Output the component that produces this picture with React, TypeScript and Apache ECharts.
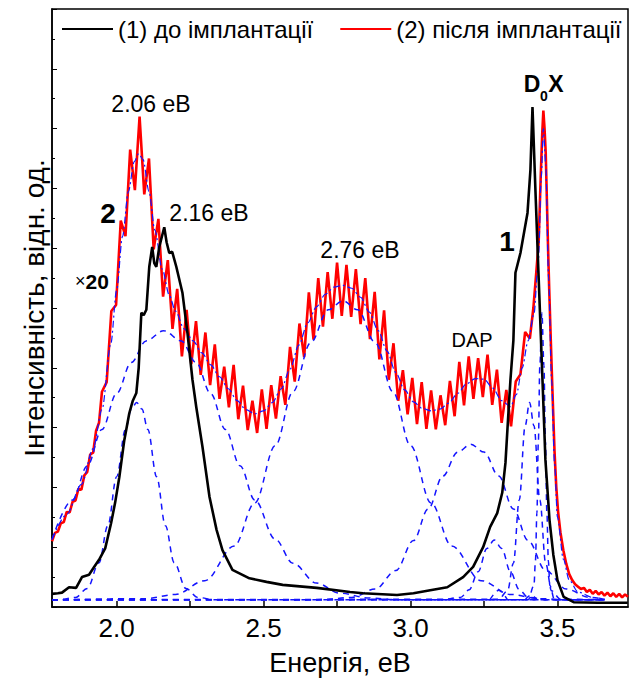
import React, { useEffect, useRef } from 'react';
import * as echarts from 'echarts';

const FONT = 'Liberation Sans, Arial, sans-serif';

const xTickValues = [2.0, 2.25, 2.5, 2.75, 3.0, 3.25, 3.5];
const xLabelValues = [2.0, 2.5, 3.0, 3.5];

const blackName = '(1) до імплантації';
const redName = '(2) після імплантації';

// curve 1: before implantation
const blackCurve = [
  [1.78, 2.2], [1.80, 2.3], [1.814, 2.4], [1.838, 3.3], [1.862, 3.2], [1.882, 5.0], [1.906, 5.4], [1.925, 6.8],
  [1.940, 7.9], [1.961, 9.8], [1.981, 14.0], [1.995, 17.5], [2.009, 21.7], [2.026, 27.9], [2.043, 32.4],
  [2.055, 34.5], [2.067, 35.8], [2.075, 40.0], [2.084, 49.2], [2.092, 48.8], [2.101, 49.7], [2.111, 56.9],
  [2.121, 60.2], [2.128, 57.5], [2.135, 56.9], [2.145, 60.2], [2.162, 63.5], [2.170, 61.0], [2.179, 59.2],
  [2.189, 59.4], [2.203, 56.9], [2.224, 52.5], [2.241, 45.8], [2.258, 38.0], [2.271, 33.4], [2.292, 26.8],
  [2.316, 18.4], [2.340, 12.9], [2.360, 9.5], [2.394, 6.2], [2.452, 4.8], [2.510, 4.2], [2.565, 3.7],
  [2.681, 3.2], [2.794, 2.5], [2.838, 2.3], [2.954, 2.0], [3.010, 2.3], [3.067, 2.8], [3.125, 3.3],
  [3.179, 5.0], [3.213, 6.7], [3.247, 10.0], [3.271, 13.4], [3.295, 15.7], [3.312, 19.1], [3.323, 24.1],
  [3.333, 32.4], [3.340, 38.0], [3.350, 44.6], [3.357, 55.9], [3.374, 59.2], [3.398, 65.9], [3.408, 73.1],
  [3.415, 83.6], [3.425, 69.7], [3.435, 56.3], [3.449, 38.0], [3.459, 24.6], [3.473, 14.5], [3.486, 8.7],
  [3.500, 4.5], [3.521, 1.7], [3.555, 0.8], [3.637, 0.7], [3.739, 0.7],
];

// curve 2: after implantation (x20)
const redCurve = [
  [1.78, 11.0], [1.79, 12.4], [1.80, 12.6], [1.81, 14.0], [1.82, 14.2], [1.83, 15.9], [1.84, 15.8], [1.85, 17.6],
  [1.86, 17.8], [1.87, 19.8], [1.88, 19.6], [1.89, 22.0], [1.90, 22.6], [1.91, 25.5], [1.92, 25.8], [1.93, 29.5],
  [1.94, 30.8], [1.950, 36.0], [1.966, 37.6], [1.982, 49.5], [1.998, 50.5], [2.014, 64.6], [2.030, 62.0],
  [2.046, 76.5], [2.062, 69.7], [2.078, 82.0], [2.094, 69.0], [2.110, 75.0], [2.126, 59.8], [2.142, 64.9],
  [2.158, 51.9], [2.174, 58.0], [2.190, 46.5], [2.206, 53.2], [2.222, 41.9], [2.238, 49.7], [2.254, 40.6],
  [2.270, 47.8], [2.286, 38.8], [2.302, 45.9], [2.318, 37.1], [2.334, 43.9], [2.350, 34.8], [2.366, 40.2],
  [2.382, 33.4], [2.398, 40.5], [2.414, 31.4], [2.430, 37.0], [2.446, 29.6], [2.462, 34.5], [2.478, 29.1],
  [2.494, 36.4], [2.510, 29.8], [2.526, 37.1], [2.542, 31.5], [2.558, 38.6], [2.574, 33.8], [2.590, 43.5],
  [2.606, 37.7], [2.622, 47.4], [2.638, 41.8], [2.654, 52.6], [2.670, 44.7], [2.686, 55.0], [2.702, 46.9],
  [2.718, 56.0], [2.734, 48.2], [2.750, 57.6], [2.766, 48.7], [2.782, 57.2], [2.798, 48.5], [2.814, 56.5],
  [2.830, 47.3], [2.846, 55.0], [2.862, 44.8], [2.878, 52.7], [2.894, 41.4], [2.910, 49.6], [2.926, 38.0],
  [2.942, 44.1], [2.958, 34.5], [2.974, 39.6], [2.990, 32.2], [3.006, 38.3], [3.022, 30.6], [3.038, 37.6],
  [3.054, 29.8], [3.070, 36.2], [3.086, 29.7], [3.102, 35.4], [3.118, 30.4], [3.134, 37.8], [3.150, 31.9],
  [3.166, 41.0], [3.182, 33.7], [3.198, 41.9], [3.214, 34.8], [3.230, 41.6], [3.246, 35.1], [3.262, 42.2],
  [3.278, 33.8], [3.294, 39.7], [3.310, 30.8], [3.326, 36.3], [3.342, 30.2], [3.358, 37.7], [3.374, 38.9],
  [3.390, 46.0], [3.406, 44.9], [3.418, 50.0], [3.428, 56.0], [3.436, 61.0], [3.443, 72.0], [3.448, 79.0],
  [3.452, 83.0], [3.456, 80.0], [3.460, 76.0], [3.464, 68.0], [3.468, 60.0], [3.472, 53.0], [3.477, 45.0],
  [3.483, 36.0], [3.490, 26.0], [3.496, 20.0], [3.502, 16.0], [3.510, 12.5], [3.520, 9.5], [3.530, 7.2],
  [3.540, 5.5], [3.550, 4.5], [3.560, 3.8], [3.570, 3.4], [3.580, 3.0], [3.590, 3.2], [3.600, 2.5],
  [3.610, 2.9], [3.620, 2.2], [3.630, 2.7], [3.640, 2.1], [3.650, 2.5], [3.660, 1.9], [3.670, 2.4],
  [3.680, 1.8], [3.690, 2.3], [3.700, 1.7], [3.710, 2.2], [3.720, 1.6], [3.730, 2.1], [3.740, 1.7],
];

// cumulative fit of curve 2
const fitSum = [
  [1.78, 11.3], [1.83, 15.5], [1.88, 20.5], [1.92, 26.5], [1.95, 33.0], [1.98, 44.0], [2.00, 53.0], [2.02, 62.0],
  [2.04, 69.5], [2.06, 74.5], [2.075, 75.8], [2.09, 74.8], [2.11, 69.5], [2.13, 63.0], [2.155, 56.5], [2.18, 52.0],
  [2.20, 49.5], [2.23, 46.5], [2.26, 44.5], [2.29, 42.5], [2.32, 40.5], [2.35, 38.5], [2.38, 36.5], [2.41, 34.5],
  [2.44, 33.0], [2.47, 32.3], [2.50, 32.8], [2.53, 34.2], [2.56, 36.5], [2.59, 39.8], [2.62, 43.8], [2.65, 47.5],
  [2.68, 50.2], [2.71, 52.3], [2.74, 53.5], [2.77, 53.8], [2.80, 53.3], [2.83, 51.8], [2.86, 49.3], [2.89, 46.2],
  [2.92, 42.8], [2.95, 39.2], [2.98, 36.3], [3.01, 34.3], [3.04, 33.2], [3.07, 32.8], [3.10, 33.1], [3.13, 34.1],
  [3.16, 35.7], [3.19, 37.3], [3.22, 38.2], [3.25, 38.1], [3.28, 36.6], [3.31, 34.5], [3.34, 33.5], [3.36, 35.5],
  [3.38, 40.0], [3.40, 44.5], [3.42, 49.0], [3.435, 58.0], [3.445, 72.0], [3.452, 80.0], [3.46, 74.0],
  [3.47, 55.0], [3.48, 38.0], [3.49, 24.0], [3.50, 15.0], [3.52, 8.0], [3.54, 4.5], [3.57, 2.5], [3.62, 1.6],
  [3.66, 1.3],
];

// Gaussian components of the fit
const peak206 = [
  [1.78, 1.2], [1.80, 1.2], [1.86, 1.6], [1.90, 3.1], [1.94, 7.4], [1.97, 13.6], [2.00, 21.8], [2.03, 29.7],
  [2.05, 33.1], [2.068, 34.2], [2.086, 33.1], [2.106, 29.7], [2.136, 21.8], [2.166, 13.6], [2.196, 7.4],
  [2.236, 3.1], [2.276, 1.6], [2.336, 1.2], [3.66, 1.2],
];
const peak216 = [
  [1.78, 11.3], [1.85, 17.9], [1.90, 23.6], [1.95, 29.7], [2.00, 35.7], [2.05, 40.9], [2.10, 44.5], [2.16, 46.2],
  [2.22, 44.5], [2.27, 40.9], [2.32, 35.7], [2.37, 29.7], [2.42, 23.6], [2.47, 17.9], [2.54, 11.3], [2.60, 7.3],
  [2.68, 4.0], [2.76, 2.3], [2.86, 1.5], [2.96, 1.2], [3.66, 1.2],
];
const peak276 = [
  [1.78, 1.2], [2.10, 1.4], [2.20, 2.1], [2.30, 4.4], [2.40, 10.2], [2.47, 17.4], [2.54, 27.0], [2.60, 36.0],
  [2.66, 44.2], [2.72, 49.7], [2.77, 51.2], [2.82, 49.7], [2.88, 44.2], [2.94, 36.0], [3.00, 27.0], [3.07, 17.4],
  [3.14, 10.2], [3.24, 4.4], [3.34, 2.1], [3.44, 1.4], [3.54, 1.2], [3.66, 1.2],
];
const peakDAP = [
  [1.78, 1.2], [2.70, 1.2], [2.80, 1.6], [2.88, 3.0], [2.95, 6.1], [3.01, 11.1], [3.06, 16.4], [3.11, 21.9],
  [3.16, 25.9], [3.205, 27.2], [3.25, 25.9], [3.30, 21.9], [3.35, 16.4], [3.40, 11.1], [3.46, 6.1], [3.53, 3.0],
  [3.61, 1.6], [3.66, 1.3],
];
const peak328 = [
  [1.78, 1.2], [3.10, 1.2], [3.17, 1.6], [3.20, 2.9], [3.23, 5.9], [3.26, 9.8], [3.285, 11.2], [3.31, 9.8],
  [3.34, 5.9], [3.37, 2.9], [3.40, 1.6], [3.47, 1.2], [3.66, 1.2],
];
const peak340 = [
  [1.78, 1.2], [3.30, 1.3], [3.33, 2.7], [3.35, 7.3], [3.37, 17.9], [3.39, 30.3], [3.405, 34.2], [3.42, 30.3],
  [3.44, 17.9], [3.46, 7.3], [3.48, 2.7], [3.51, 1.3], [3.66, 1.2],
];
const peakD0X = [
  [1.78, 1.2], [3.40, 1.2], [3.42, 3.6], [3.425, 7.7], [3.43, 15.7], [3.435, 27.7], [3.44, 40.4], [3.447, 49.2],
  [3.454, 40.4], [3.459, 27.7], [3.464, 15.7], [3.469, 7.7], [3.474, 3.6], [3.49, 1.2], [3.66, 1.2],
];
const smallBump1 = [[3.27, 1.2], [3.30, 2.8], [3.33, 1.2]];
const smallBump2 = [[3.39, 1.2], [3.41, 2.0], [3.43, 1.2]];

const components = [peak206, peak216, peak276, peakDAP, peak328, peak340, peakD0X, smallBump1, smallBump2];

export default function App() {
  const ref = useRef<HTMLDivElement>(null);

  useEffect(() => {
    const chart = echarts.init(ref.current!, null, { renderer: 'svg' });
    const blue = '#1414ff';
    const compSeries = components.map((d) => ({
      type: 'line',
      data: d,
      showSymbol: false,
      smooth: 0.35,
      smoothMonotone: 'x',
      lineStyle: { color: blue, width: 1.5, type: [6, 5] },
      z: 3,
      silent: true,
    }));
    const txt = (text: string, x: number, y: number, font: string) => ({
      type: 'text', x, y,
      style: { text, font, fill: '#000', align: 'center', verticalAlign: 'middle' },
    });
    const option: any = {
      animation: false,
      backgroundColor: '#fff',
      textStyle: { fontFamily: FONT },
      grid: { left: 52, right: 9, top: 9, bottom: 76, show: true, borderColor: '#000', borderWidth: 1.5, backgroundColor: 'transparent' },
      legend: {
        data: [blackName, redName],
        left: 57,
        top: 12,
        icon: 'rect',
        itemWidth: 51,
        itemHeight: 2,
        itemGap: 27,
        textStyle: { fontSize: 24, color: '#000', fontFamily: FONT },
      },
      xAxis: {
        type: 'value',
        min: 1.78,
        max: 3.74,
        name: 'Енергія, еВ',
        nameLocation: 'middle',
        nameGap: 42,
        nameTextStyle: { fontSize: 27, color: '#000', fontFamily: FONT },
        axisLine: { lineStyle: { color: '#000', width: 1.5 } },
        axisTick: { inside: true, length: 6, customValues: xTickValues, lineStyle: { color: '#000', width: 1.5 } },
        axisLabel: {
          customValues: xLabelValues,
          formatter: (v: number) => v.toFixed(1),
          fontSize: 26,
          color: '#000',
          margin: 8,
          fontFamily: FONT,
        },
        splitLine: { show: false },
      },
      yAxis: {
        type: 'value',
        min: 0,
        max: 100,
        interval: 10,
        name: 'Інтенсивність, відн. од.',
        nameLocation: 'middle',
        nameGap: 4,
        nameTextStyle: { fontSize: 28, color: '#000', fontFamily: FONT },
        axisLine: { lineStyle: { color: '#000', width: 1.5 } },
        axisTick: { inside: true, length: 5, lineStyle: { color: '#000', width: 1 } },
        minorTick: { show: true, splitNumber: 2, length: 3, lineStyle: { color: '#000', width: 1 } },
        axisLabel: { show: false },
        splitLine: { show: false },
        minorSplitLine: { show: false },
      },
      series: [
        {
          name: redName,
          type: 'line',
          data: redCurve,
          showSymbol: false,
          lineStyle: { color: '#ff0000', width: 2.6 },
          itemStyle: { color: '#ff0000' },
          z: 2,
        },
        ...compSeries,
        {
          type: 'line',
          data: fitSum,
          showSymbol: false,
          smooth: 0.3,
          smoothMonotone: 'x',
          lineStyle: { color: blue, width: 1.2, type: [7, 3, 2, 3] },
          z: 4,
          silent: true,
        },
        {
          name: blackName,
          type: 'line',
          data: blackCurve,
          showSymbol: false,
          lineStyle: { color: '#000', width: 2.6 },
          itemStyle: { color: '#000' },
          z: 5,
        },
      ],
      graphic: [
        txt('2.06 eB', 151, 104, `23px ${FONT}`),
        txt('2.16 eB', 209, 213, `23px ${FONT}`),
        txt('2.76 eB', 360, 250, `23px ${FONT}`),
        txt('DAP', 472, 340, `20px ${FONT}`),
        txt('2', 108, 213, `bold 28px ${FONT}`),
        txt('1', 507, 241, `bold 28px ${FONT}`),
        {
          type: 'text', x: 92, y: 281,
          style: {
            text: '{a|×}{b|20}', align: 'center', verticalAlign: 'middle',
            rich: {
              a: { fontSize: 18, fontFamily: FONT, fill: '#000' },
              b: { fontSize: 21, fontWeight: 'bold', fontFamily: FONT, fill: '#000' },
            },
          },
        },
        txt('D', 532, 84, `bold 23px ${FONT}`),
        txt('0', 544, 96, `bold 14px ${FONT}`),
        txt('X', 556, 84, `bold 23px ${FONT}`),
      ],
    };
    chart.setOption(option);
    return () => chart.dispose();
  }, []);

  return <div ref={ref} style={{ position: 'fixed', left: 0, top: 0, width: 637, height: 683, background: '#fff' }} />;
}
